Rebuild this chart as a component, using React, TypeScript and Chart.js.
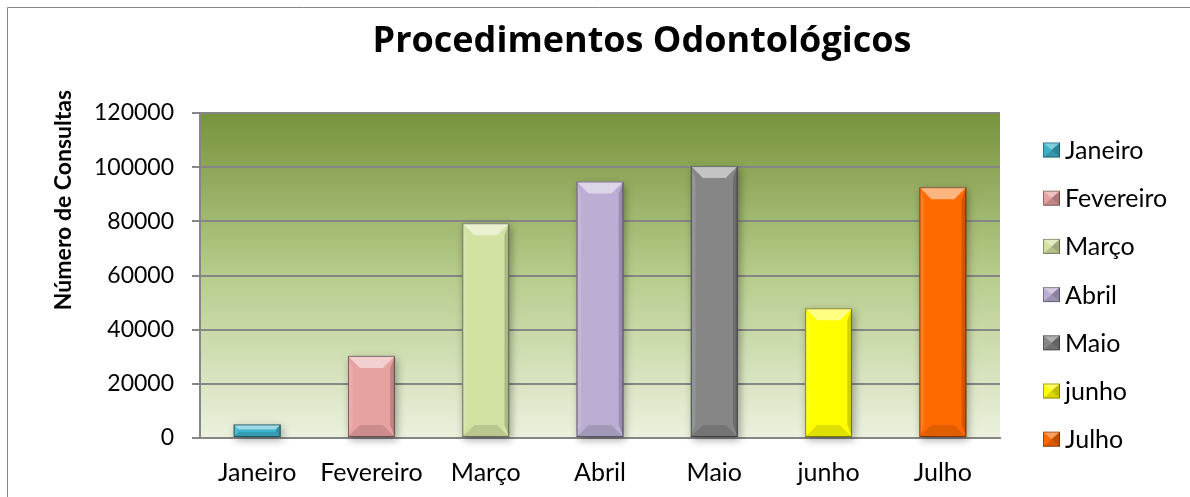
import React, { useEffect, useRef } from 'react';
import { Chart, registerables } from 'chart.js';

Chart.register(...registerables);

const months: string[] = ['Janeiro', 'Fevereiro', 'Março', 'Abril', 'Maio', 'junho', 'Julho'];
const consultas: number[] = [5000, 30300, 79300, 94700, 100400, 47900, 92600];
const barColors: string[] = ['#3DB3CB', '#E6A1A0', '#D2E2A3', '#BBADD3', '#868686', '#FFFF00', '#FF6A00'];
const yMin = 0;
const yMax = 120000;
const yStep = 20000;
const chartTitle = 'Procedimentos Odontológicos';
const yAxisTitle = 'Número de Consultas';

const FONT = 'Lato, "Noto Sans", sans-serif';
const TITLE_FONT = '"Open Sans", Lato, sans-serif';

const framePlugin = {
  id: 'frameAndBg',
  beforeDraw(chart: any) {
    const { ctx, chartArea } = chart;
    ctx.save();
    ctx.fillStyle = '#ffffff';
    ctx.fillRect(0, 0, chart.width, chart.height);
    ctx.strokeStyle = '#868686';
    ctx.lineWidth = 1;
    ctx.beginPath();
    ctx.moveTo(7.5, chart.height + 5);
    ctx.lineTo(7.5, 7.5);
    ctx.lineTo(chart.width + 5, 7.5);
    ctx.stroke();
    const g = ctx.createLinearGradient(0, chartArea.top, 0, chartArea.bottom);
    g.addColorStop(0, '#77933C');
    g.addColorStop(0.5, '#B7CC8C');
    g.addColorStop(1, '#EBF1DE');
    ctx.fillStyle = g;
    ctx.fillRect(chartArea.left, chartArea.top, chartArea.right - chartArea.left, chartArea.bottom - chartArea.top);
    ctx.restore();
  },
};

const shadowPlugin = {
  id: 'barShadow',
  beforeDatasetsDraw(chart: any) {
    const ctx = chart.ctx;
    const meta = chart.getDatasetMeta(0);
    ctx.save();
    ctx.shadowColor = 'rgba(0,0,0,0.35)';
    ctx.shadowBlur = 8;
    ctx.shadowOffsetX = 2;
    ctx.shadowOffsetY = 3;
    meta.data.forEach((bar: any) => {
      const { x, y, base, width } = bar.getProps(['x', 'y', 'base', 'width'], true);
      ctx.fillStyle = 'rgba(120,120,120,1)';
      ctx.fillRect(x - width / 2, y, width, base - y);
    });
    ctx.restore();
  },
};

function poly(ctx: any, pts: number[][], fill: string) {
  ctx.beginPath();
  ctx.moveTo(pts[0][0], pts[0][1]);
  for (let i = 1; i < pts.length; i++) ctx.lineTo(pts[i][0], pts[i][1]);
  ctx.closePath();
  ctx.fillStyle = fill;
  ctx.fill();
}

const bevelPlugin = {
  id: 'bevel',
  afterDatasetsDraw(chart: any) {
    const ctx = chart.ctx;
    const meta = chart.getDatasetMeta(0);
    ctx.save();
    meta.data.forEach((bar: any) => {
      const { x, y, base, width } = bar.getProps(['x', 'y', 'base', 'width'], true);
      const l = x - width / 2;
      const r = x + width / 2;
      const t = y;
      const b = base;
      const h = b - t;
      const bv = Math.min(12, h * 0.4);
      const sv = Math.min(5, width * 0.1);
      poly(ctx, [[l, t], [r, t], [r - bv, t + bv], [l + bv, t + bv]], 'rgba(255,255,255,0.5)');
      poly(ctx, [[l, b], [r, b], [r - bv, b - bv], [l + bv, b - bv]], 'rgba(0,0,0,0.12)');
      poly(ctx, [[l, t], [l + sv, t + bv], [l + sv, b - bv], [l, b]], 'rgba(255,255,255,0.12)');
      poly(ctx, [[r, t], [r - sv, t + bv], [r - sv, b - bv], [r, b]], 'rgba(0,0,0,0.18)');
      ctx.strokeStyle = 'rgba(0,0,0,0.45)';
      ctx.lineWidth = 1;
      ctx.strokeRect(l + 0.5, t + 0.5, width - 1, h - 1);
    });
    ctx.restore();
  },
};

const textPlugin = {
  id: 'texts',
  afterDraw(chart: any) {
    const ctx = chart.ctx;
    const ds = chart.data.datasets[0];
    ctx.save();
    ctx.fillStyle = '#000';
    ctx.textAlign = 'center';
    ctx.textBaseline = 'alphabetic';
    ctx.font = `bold 36px ${TITLE_FONT}`;
    ctx.fillText(chartTitle, 642, 52);

    ctx.save();
    ctx.translate(64, 200);
    ctx.rotate(-Math.PI / 2);
    ctx.textBaseline = 'middle';
    ctx.font = `bold 23px ${FONT}`;
    ctx.fillText(yAxisTitle, 0, 0);
    ctx.restore();

    // legend
    const labels: string[] = chart.data.labels;
    const colors: string[] = ds.backgroundColor;
    const x0 = 1043;
    const y0 = 150;
    const gap = 48.2;
    ctx.font = `25px ${FONT}`;
    ctx.textAlign = 'left';
    ctx.textBaseline = 'middle';
    labels.forEach((lab: string, i: number) => {
      const cy = y0 + i * gap;
      const bx = x0;
      const by = cy - 7.5;
      const bw = 17;
      const bh = 15;
      ctx.fillStyle = colors[i];
      ctx.fillRect(bx, by, bw, bh);
      const cx = bx + bw / 2;
      const cyy = by + bh / 2;
      poly(ctx, [[bx, by], [bx + bw, by], [cx, cyy]], 'rgba(255,255,255,0.35)');
      poly(ctx, [[bx, by + bh], [bx + bw, by + bh], [cx, cyy]], 'rgba(0,0,0,0.15)');
      poly(ctx, [[bx + bw, by], [bx + bw, by + bh], [cx, cyy]], 'rgba(0,0,0,0.25)');
      ctx.strokeStyle = 'rgba(0,0,0,0.35)';
      ctx.lineWidth = 1;
      ctx.strokeRect(bx + 0.5, by + 0.5, bw - 1, bh - 1);
      ctx.fillStyle = '#000';
      ctx.fillText(lab, 1065, cy + 1);
    });
    ctx.restore();
  },
};

export default function App() {
  const ref = useRef<HTMLCanvasElement | null>(null);
  useEffect(() => {
    if (!ref.current) return;
    const chart = new Chart(ref.current, {
      type: 'bar',
      data: {
        labels: months,
        datasets: [
          {
            label: 'Consultas',
            data: consultas,
            backgroundColor: barColors,
            borderWidth: 0,
            categoryPercentage: 1,
            barPercentage: 0.41,
          },
        ],
      },
      options: {
        animation: false,
        responsive: false,
        maintainAspectRatio: false,
        devicePixelRatio: 1,
        layout: { padding: { top: 113, right: 190, bottom: 0, left: 0 } },
        plugins: {
          legend: { display: false },
          title: { display: false },
          tooltip: { enabled: false },
        },
        scales: {
          x: {
            grid: { display: false, drawTicks: false },
            border: { display: true, color: '#868686', width: 2 },
            ticks: { font: { family: FONT, size: 25 }, color: '#000', padding: 20 },
            afterFit: (s: any) => {
              s.height = 59;
            },
          },
          y: {
            min: yMin,
            max: yMax,
            ticks: {
              stepSize: yStep,
              font: { family: FONT, size: 23 },
              color: '#000',
              padding: 18,
              callback: (v: any) => String(v),
            },
            grid: { color: '#868686', lineWidth: 2, tickLength: 8, drawTicks: true },
            border: { display: true, color: '#868686', width: 2 },
            afterFit: (s: any) => {
              s.width = 200;
            },
          },
        },
      },
      plugins: [framePlugin, shadowPlugin, bevelPlugin, textPlugin],
    });
    return () => chart.destroy();
  }, []);
  return (
    <div style={{ position: 'fixed', left: 0, top: 0, width: 1190, height: 497, background: '#fff' }}>
      <canvas ref={ref} width={1190} height={497} style={{ display: 'block', width: 1190, height: 497 }} />
    </div>
  );
}
